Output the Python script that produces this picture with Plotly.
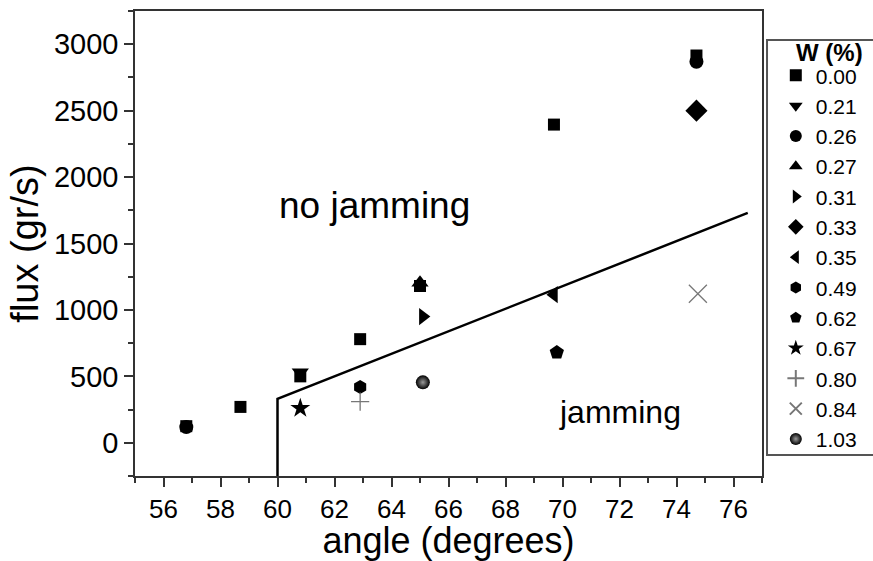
import plotly.graph_objects as go

# ---- data ----
w_labels = ["0.00", "0.21", "0.26", "0.27", "0.31", "0.33", "0.35",
            "0.49", "0.62", "0.67", "0.80", "0.84", "1.03"]

angle_000 = [56.8, 58.7, 60.8, 62.9, 65.0, 69.7, 74.7]
flux_000 = [125, 270, 500, 780, 1180, 2395, 2915]
angle_021 = [60.8]
flux_021 = [530]
angle_026 = [56.8, 74.7]
flux_026 = [118, 2868]
angle_027 = [65.0]
flux_027 = [1205]
angle_031 = [65.1]
flux_031 = [950]
angle_033 = [74.7]
flux_033 = [2500]
angle_035 = [69.7]
flux_035 = [1115]
angle_049 = [62.9]
flux_049 = [420]
angle_062 = [69.8]
flux_062 = [680]
angle_067 = [60.8]
flux_067 = [260]
angle_080 = [62.9]
flux_080 = [310]
angle_084 = [74.75]
flux_084 = [1122]
angle_103 = [65.1]
flux_103 = [455]

boundary_angle = [60, 60, 76.5]
boundary_flux = [-250, 330, 1730]

x_range = [55, 77]
y_range = [-250, 3250]

series = [
    (angle_000, flux_000, "square", 12, "black"),
    (angle_021, flux_021, "triangle-down", 15, "black"),
    (angle_026, flux_026, "circle", 14, "black"),
    (angle_027, flux_027, "triangle-up", 15, "black"),
    (angle_031, flux_031, "triangle-right", 15, "black"),
    (angle_033, flux_033, "diamond", 17, "black"),
    (angle_035, flux_035, "triangle-left", 15, "black"),
    (angle_049, flux_049, "hexagon", 14, "black"),
    (angle_062, flux_062, "pentagon", 15, "black"),
    (angle_067, flux_067, "star", 15, "black"),
    (angle_080, flux_080, "cross-thin", 13, "#777"),
    (angle_084, flux_084, "x-thin", 18, "#777"),
    (angle_103, flux_103, "circle", 14, "black"),
]

FONT = "Liberation Sans, Arial, sans-serif"

fig = go.Figure()

fig.add_trace(go.Scatter(
    x=boundary_angle, y=boundary_flux, mode="lines",
    line=dict(color="black", width=2.5), showlegend=False, hoverinfo="skip"))

for lab, (xs, ys, sym, size, col) in zip(w_labels, series):
    marker = dict(symbol=sym, size=size, color=col)
    if sym in ("cross-thin", "x-thin"):
        marker["line"] = dict(color=col, width=1.3)
    else:
        marker["line"] = dict(width=0)
    if lab == "1.03":
        marker["gradient"] = dict(type="radial", color="#9a9a9a")
    fig.add_trace(go.Scatter(x=xs, y=ys, mode="markers", name=lab, marker=marker))

fig.add_annotation(x=63.42, y=1785, text="no jamming", showarrow=False,
                   font=dict(family=FONT, size=37, color="black"))
fig.add_annotation(x=72.0, y=232, text="jamming", showarrow=False,
                   font=dict(family=FONT, size=32, color="black"))

# legend frame and title
fig.add_shape(type="rect", xref="paper", yref="paper",
              x0=1.008, x1=1.19, y0=0.045, y1=0.9376,
              line=dict(color="#555", width=2), fillcolor="rgba(0,0,0,0)", layer="above")
fig.add_annotation(xref="paper", yref="paper", x=1.108, y=0.91, text="<b>W (%)</b>",
                   xanchor="center", yanchor="middle",
                   showarrow=False, font=dict(family=FONT, size=24, color="black"))

axis_common = dict(
    showline=True, linecolor="#333", linewidth=1.5, mirror=True,
    ticks="outside", tickcolor="#333", tickwidth=1.5, ticklen=9,
    showgrid=False, zeroline=False,
)

fig.update_xaxes(range=x_range, tick0=56, dtick=2,
                 tickfont=dict(family=FONT, size=26, color="black"),
                 minor=dict(dtick=1, ticks="outside", ticklen=5, tickcolor="#333", tickwidth=1.5),
                 title=dict(text="angle (degrees)", font=dict(family=FONT, size=36, color="black"), standoff=10),
                 **axis_common)
fig.update_yaxes(range=y_range, tick0=0, dtick=500,
                 tickfont=dict(family=FONT, size=29, color="black"),
                 minor=dict(dtick=250, ticks="outside", ticklen=5, tickcolor="#333", tickwidth=1.5),
                 title=dict(text="flux (gr/s)", font=dict(family=FONT, size=38, color="black"), standoff=4),
                 **axis_common)

fig.update_layout(
    width=873, height=561,
    margin=dict(l=135, r=111, t=11, b=85, autoexpand=False),
    paper_bgcolor="white", plot_bgcolor="white",
    legend=dict(
        x=1.022, y=0.905, xanchor="left", yanchor="top",
        borderwidth=0, bgcolor="rgba(0,0,0,0)",
        font=dict(family=FONT, size=21, color="black"),
        itemsizing="constant", tracegroupgap=0,
    ),
)

fig.write_html("out.html")
